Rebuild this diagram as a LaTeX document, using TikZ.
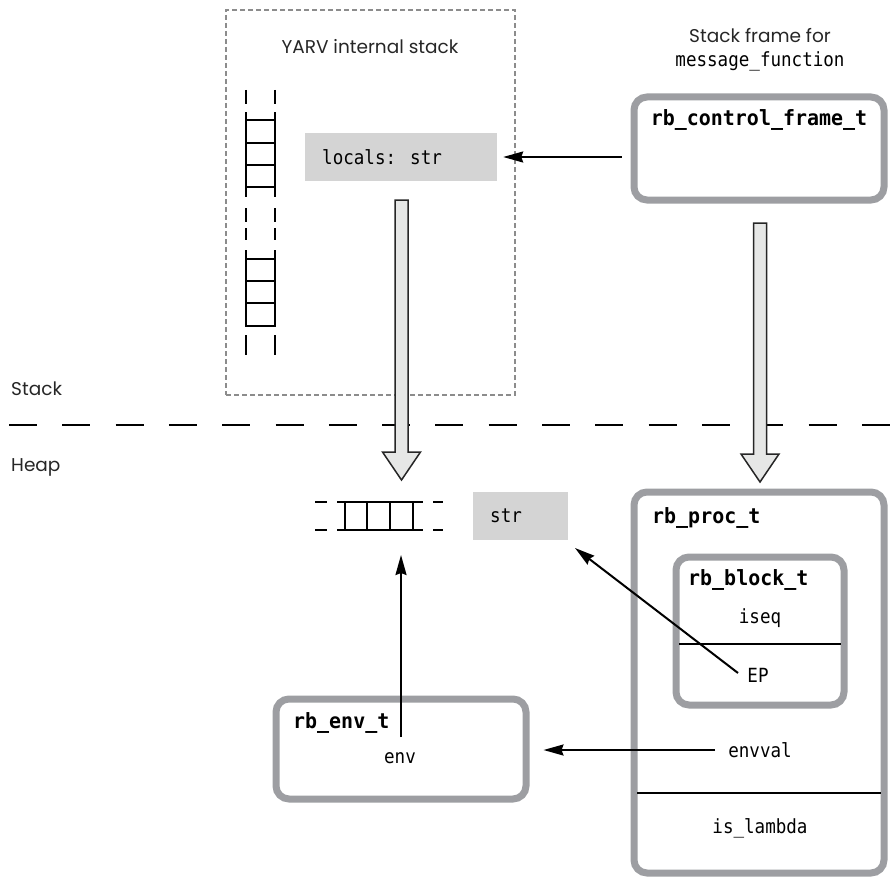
\documentclass[tikz,border=0pt]{standalone}
\usepackage{fontspec}
\setmainfont{Poppins}
\newfontfamily\monof[FakeStretch=0.9]{DejaVu Sans Mono}
\newfontfamily\monobf[FakeStretch=0.95]{DejaVu Sans Mono Bold}
\usetikzlibrary{arrows.meta,calc}
\definecolor{boxgray}{HTML}{9D9EA2}
\definecolor{fillgray}{HTML}{D4D4D4}
\definecolor{arrfill}{HTML}{E6E7E6}
\definecolor{dotgray}{HTML}{8C8C8C}
\begin{document}
\begin{tikzpicture}[x=1pt,y=-1pt,
  objbox/.style={draw=boxgray, line width=7pt, rounded corners=13pt, inner sep=0pt},
  graybox/.style={fill=fillgray, inner sep=0pt},
  lbl/.style={font=\fontsize{18.5}{22}\selectfont, inner sep=0pt, text=black!85},
  code/.style={font=\monof\fontsize{19.5}{22}\selectfont, inner sep=0pt},
  title/.style={font=\monobf\fontsize{21}{24}\selectfont, inner sep=0pt},
  ptr/.style={line width=2pt, -{Stealth[length=20pt,width=11pt,inset=2pt]}},
  rail/.style={line width=2.5pt},
  hrail/.style={line width=2pt},
  divider/.style={line width=2pt},
  big/.style={draw=black!85, line width=1.5pt, fill=arrfill, line join=miter}]
\useasboundingbox (0,0) rectangle (890,880);

% YARV dotted region
\node[draw=dotgray, line width=1.5pt, dash pattern=on 5pt off 3pt, minimum width=289pt, minimum height=385pt, inner sep=0pt] (yarv) at (370.5,202.5) {};
\node[lbl, anchor=base] (yarvlbl) at (370,54) {YARV internal stack};

% vertical ladder
\foreach \x in {246,275} {
  \draw[rail] (\x,90) -- (\x,104);
  \draw[rail] (\x,112) -- (\x,197);
  \draw[rail] (\x,208) -- (\x,222);
  \draw[rail] (\x,228) -- (\x,240);
  \draw[rail] (\x,250) -- (\x,327);
  \draw[rail] (\x,335) -- (\x,355);
}
\foreach \y in {120,143,165,187,259,281,303,326}
  \draw[rail] (246,\y) -- (275,\y);

% locals box
\node[graybox, minimum width=192pt, minimum height=48pt] (locals) at (401,157) {};
\node[code, anchor=west] (localstxt) at (322,157) {locals: str};

% stack frame
\node[lbl, anchor=base] (sflbl) at (760,43) {Stack frame for};
\node[code] (sfname) at (760,61) {message\_function};
\node[objbox, minimum width=250pt, minimum height=103pt] (cf) at (759,148.5) {};
\node[title] (cftxt) at (759,120) {rb\_control\_frame\_t};

% stack / heap separator
\node[lbl, anchor=base west] (stacklbl) at (11,395) {Stack};
\node[lbl, anchor=base west] (heaplbl) at (11,471) {Heap};
\draw[line width=2.5pt, dash pattern=on 28pt off 25.3pt] (9,425) -- (890,425);

% big hollow arrows
\coordinate (a1s) at (401.5,200);
\coordinate (a1t) at (401.5,480);
\draw[big] ($(a1s)+(-6.5,0)$) -- ($(a1t)+(-6.5,-28)$) -- ($(a1t)+(-19,-28)$) -- (a1t)
  -- ($(a1t)+(19,-28)$) -- ($(a1t)+(6.5,-28)$) -- ($(a1s)+(6.5,0)$) -- cycle;
\coordinate (a2s) at (760,223);
\coordinate (a2t) at (760,482);
\draw[big] ($(a2s)+(-6.5,0)$) -- ($(a2t)+(-6.5,-28)$) -- ($(a2t)+(-19,-28)$) -- (a2t)
  -- ($(a2t)+(19,-28)$) -- ($(a2t)+(6.5,-28)$) -- ($(a2s)+(6.5,0)$) -- cycle;

% heap ladder
\foreach \y in {502,530} {
  \draw[hrail] (315,\y) -- (327,\y);
  \draw[hrail] (337,\y) -- (423,\y);
  \draw[hrail] (433,\y) -- (443,\y);
}
\foreach \x in {345,367,390,413}
  \draw[hrail] (\x,502) -- (\x,530);
\coordinate (ladbot) at (401,530);

% str box
\node[graybox, minimum width=95pt, minimum height=48pt] (str) at (520.5,516) {};
\node[code, anchor=west] (strtxt) at (490,516) {str};

% rb_proc_t
\node[objbox, minimum width=250pt, minimum height=381pt] (proc) at (759,682.5) {};
\node[title, anchor=west] (proctxt) at (652,518) {rb\_proc\_t};
\node[objbox, minimum width=168pt, minimum height=148pt] (block) at (760,631) {};
\node[title, anchor=west] (blocktxt) at (688,580) {rb\_block\_t};
\node[code] (iseq) at (760,618) {iseq};
\draw[divider] (679,644) -- (841,644);
\node[code] (ep) at (758,675) {EP};
\node[code] (envval) at (760,750) {envval};
\draw[divider] (637,793) -- (881,793);
\node[code] (islambda) at (760,828) {is\_lambda};

% rb_env_t
\node[objbox, minimum width=250pt, minimum height=100pt] (envbox) at (401,749) {};
\node[title, anchor=west] (envtxt) at (293,723) {rb\_env\_t};
\node[code] (env) at (400,758) {env};
\coordinate (envp) at (401,737);

% pointers
\draw[ptr, shorten <=9pt, shorten >=6pt] (locals.east -| cf.west) -- (locals.east);
\draw[ptr, shorten >=25pt] (envp) -- (ladbot);
\coordinate (epp) at (738,673);
\coordinate (strp) at (575,548);
\draw[ptr] (epp) -- (strp);
\draw[ptr, shorten <=13pt, shorten >=14pt] (envval.west) -- (envval.west -| envbox.east);
\end{tikzpicture}
\end{document}
